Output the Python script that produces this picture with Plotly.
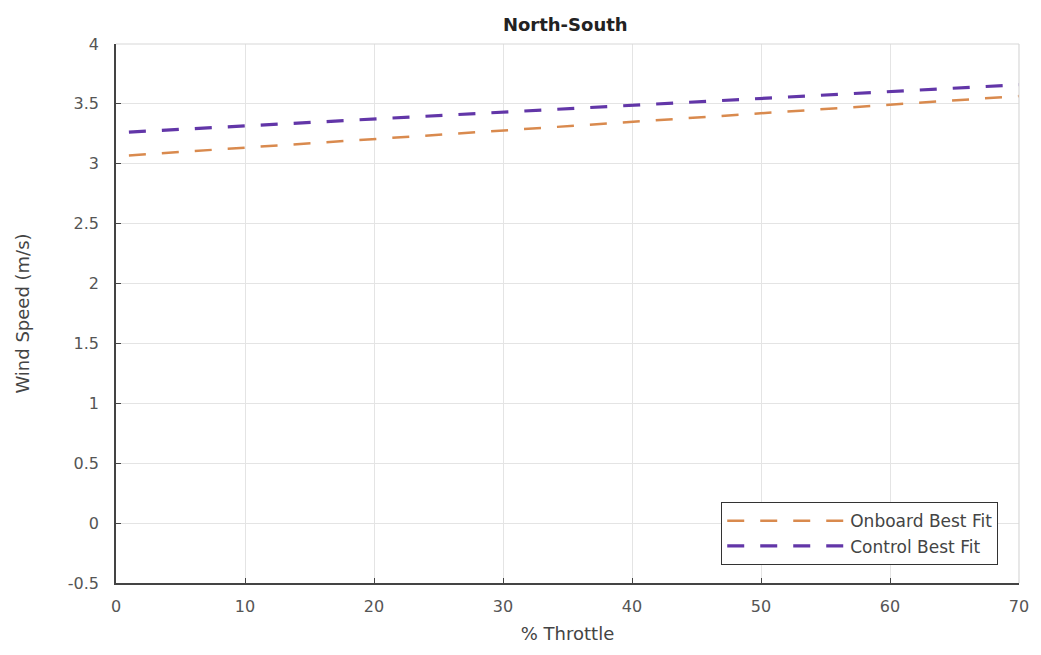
import plotly.graph_objects as go

# Data
throttle = [1, 70]
onboard_fit = [3.07, 3.565]
control_fit = [3.265, 3.66]

x_ticks = [0, 10, 20, 30, 40, 50, 60, 70]
y_ticks = [-0.5, 0, 0.5, 1, 1.5, 2, 2.5, 3, 3.5, 4]
y_tick_text = ["-0.5", "0", "0.5", "1", "1.5", "2", "2.5", "3", "3.5", "4"]

fig = go.Figure()
fig.add_trace(go.Scatter(
    x=throttle, y=onboard_fit, mode="lines", name="Onboard Best Fit",
    line=dict(color="#D98A4E", width=2.5, dash="17px,16px"),
))
fig.add_trace(go.Scatter(
    x=throttle, y=control_fit, mode="lines", name="Control Best Fit",
    line=dict(color="#6236A8", width=3.2, dash="17px,16px"),
))

font_family = "DejaVu Sans, Liberation Sans, Arial, sans-serif"
fig.update_layout(
    width=1041, height=655,
    margin=dict(l=116, r=16, t=44, b=72),
    paper_bgcolor="white", plot_bgcolor="white",
    font=dict(family=font_family, color="#444444", size=16),
    title=dict(text="<b>North-South</b>", x=0.543, xanchor="center",
               y=0.962, yanchor="middle",
               font=dict(size=18, color="#222222", family=font_family)),
    showlegend=True,
    legend=dict(
        x=0.977, xanchor="right", y=0.033, yanchor="bottom",
        bgcolor="white", bordercolor="#333333", borderwidth=1,
        font=dict(size=17, color="#444444"),
        itemwidth=118, tracegroupgap=0,
    ),
    xaxis=dict(
        range=[0, 70], tickvals=x_ticks, ticktext=[str(v) for v in x_ticks],
        showgrid=True, gridcolor="#e4e4e4", gridwidth=1,
        showline=True, linecolor="#444444", linewidth=1.5,
        ticks="inside", ticklen=5, tickcolor="#444444",
        zeroline=False, mirror=False, ticklabelstandoff=8,
        title=dict(text="% Throttle", font=dict(size=18, color="#444444"), standoff=12),
        tickfont=dict(size=16, color="#555555"),
    ),
    yaxis=dict(
        range=[-0.5, 4], tickvals=y_ticks, ticktext=y_tick_text,
        showgrid=True, gridcolor="#e4e4e4", gridwidth=1,
        showline=True, linecolor="#444444", linewidth=1.5,
        ticks="inside", ticklen=5, tickcolor="#444444",
        zeroline=False, mirror=False, ticklabelstandoff=12,
        title=dict(text="Wind Speed (m/s)", font=dict(size=18, color="#444444"), standoff=34),
        tickfont=dict(size=16, color="#555555"),
    ),
    shapes=[
        dict(type="line", xref="paper", yref="paper", x0=0, x1=1, y0=1, y1=1,
             line=dict(color="#d8d8d8", width=1.2)),
        dict(type="line", xref="paper", yref="paper", x0=1, x1=1, y0=0, y1=1,
             line=dict(color="#d8d8d8", width=1.2)),
    ],
)

fig.write_html("out.html")
